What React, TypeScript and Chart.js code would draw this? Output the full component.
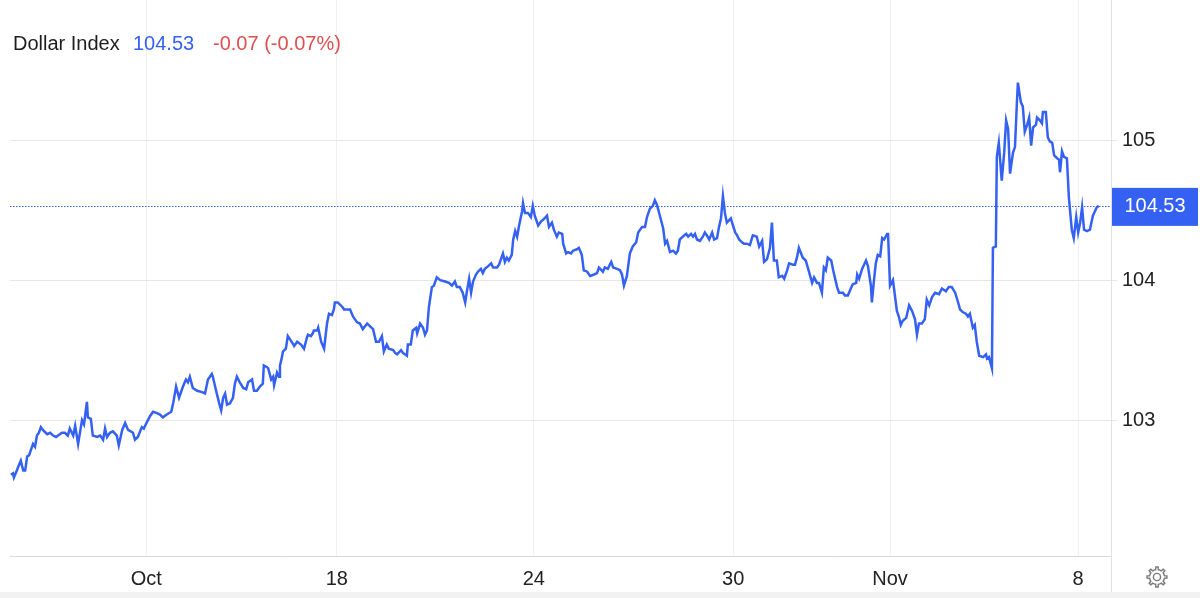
import React, { useEffect, useRef } from "react";
import Chart from "chart.js/auto";

const TITLE = "Dollar Index";
const LAST = 104.53;
const LAST_TEXT = "104.53";
const CHANGE_TEXT = "-0.07 (-0.07%)";

// x: trading days since the first sample
const TIMES = [
  0.02, 0.06, 0.08, 0.14, 0.16, 0.22, 0.27, 0.31, 0.35, 0.39, 0.47, 0.51, 0.55, 0.59, 0.63, 0.67, 0.76, 0.82, 0.88, 0.94,
  0.98, 1.06, 1.12, 1.18, 1.22, 1.29, 1.33, 1.39, 1.47, 1.51, 1.57, 1.59, 1.65, 1.69, 1.78, 1.84, 1.9, 1.94, 1.98, 2.04,
  2.1, 2.18, 2.22, 2.29, 2.35, 2.41, 2.51, 2.55, 2.61, 2.69, 2.73, 2.8, 2.86, 2.92, 3.0, 3.06, 3.12, 3.2, 3.29, 3.33,
  3.39, 3.45, 3.53, 3.59, 3.63, 3.67, 3.73, 3.82, 3.92, 3.98, 4.04, 4.12, 4.14, 4.22, 4.27, 4.31, 4.35, 4.39, 4.43, 4.49,
  4.55, 4.59, 4.63, 4.69, 4.76, 4.82, 4.86, 4.94, 4.98, 5.04, 5.1, 5.16, 5.18, 5.24, 5.27, 5.33, 5.37, 5.39, 5.45, 5.49,
  5.51, 5.55, 5.57, 5.63, 5.67, 5.73, 5.8, 5.86, 5.94, 6.0, 6.06, 6.08, 6.14, 6.18, 6.2, 6.27, 6.29, 6.35, 6.41, 6.47,
  6.51, 6.57, 6.61, 6.63, 6.69, 6.78, 6.82, 6.88, 6.94, 7.0, 7.08, 7.14, 7.2, 7.29, 7.35, 7.41, 7.47, 7.53, 7.59, 7.63,
  7.69, 7.73, 7.82, 7.86, 7.9, 7.98, 8.02, 8.1, 8.12, 8.18, 8.22, 8.29, 8.31, 8.37, 8.43, 8.47, 8.51, 8.55, 8.61, 8.65,
  8.71, 8.78, 8.88, 8.96, 9.02, 9.08, 9.12, 9.18, 9.24, 9.29, 9.33, 9.37, 9.41, 9.45, 9.51, 9.55, 9.61, 9.65, 9.69, 9.76,
  9.82, 9.86, 9.94, 9.98, 10.04, 10.06, 10.1, 10.14, 10.18, 10.24, 10.27, 10.31, 10.35, 10.39, 10.45, 10.47, 10.51, 10.57, 10.63, 10.67,
  10.71, 10.78, 10.84, 10.88, 10.96, 11.0, 11.06, 11.1, 11.16, 11.2, 11.27, 11.29, 11.35, 11.39, 11.45, 11.49, 11.57, 11.61, 11.67, 11.71,
  11.78, 11.84, 11.92, 11.98, 12.02, 12.1, 12.14, 12.2, 12.27, 12.31, 12.39, 12.45, 12.49, 12.53, 12.59, 12.65, 12.71, 12.78, 12.82, 12.9,
  12.96, 13.0, 13.06, 13.12, 13.16, 13.2, 13.24, 13.33, 13.37, 13.41, 13.47, 13.53, 13.59, 13.63, 13.67, 13.73, 13.8, 13.84, 13.9, 13.94,
  13.98, 14.02, 14.08, 14.14, 14.18, 14.22, 14.27, 14.33, 14.37, 14.43, 14.47, 14.51, 14.55, 14.59, 14.63, 14.71, 14.8, 14.84, 14.88, 14.94,
  14.98, 15.04, 15.1, 15.16, 15.24, 15.29, 15.35, 15.39, 15.45, 15.51, 15.55, 15.59, 15.65, 15.69, 15.76, 15.8, 15.86, 15.9, 15.98, 16.02,
  16.06, 16.1, 16.18, 16.24, 16.29, 16.37, 16.41, 16.47, 16.51, 16.57, 16.61, 16.65, 16.69, 16.76, 16.8, 16.88, 16.92, 17.0, 17.04, 17.1,
  17.16, 17.2, 17.27, 17.29, 17.33, 17.39, 17.43, 17.47, 17.51, 17.57, 17.59, 17.63, 17.67, 17.71, 17.76, 17.8, 17.84, 17.9, 17.92, 17.96,
  18.02, 18.06, 18.1, 18.14, 18.18, 18.22, 18.29, 18.35, 18.41, 18.47, 18.51, 18.55, 18.61, 18.67, 18.71, 18.76, 18.82, 18.88, 18.96, 19.02,
  19.1, 19.16, 19.22, 19.29, 19.35, 19.39, 19.45, 19.51, 19.55, 19.59, 19.65, 19.69, 19.73, 19.78, 19.86, 19.92, 19.94, 19.98, 20.04, 20.06,
  20.12, 20.14, 20.18, 20.24, 20.29, 20.33, 20.37, 20.41, 20.47, 20.51, 20.55, 20.57, 20.63, 20.67, 20.71, 20.76, 20.8, 20.84, 20.88, 20.94,
  20.96, 21.02, 21.06, 21.08, 21.14, 21.18, 21.22, 21.27, 21.31, 21.37, 21.41, 21.43, 21.47, 21.51, 21.57, 21.61, 21.67, 21.71, 21.76, 21.8,
  21.84, 21.88, 21.92, 21.98, 22.04, 22.1, 22.14, 22.18, 22.22,
];

const VALUES = [
  102.61, 102.62, 102.59, 102.64, 102.66, 102.71, 102.64, 102.64, 102.74, 102.75, 102.83, 102.81, 102.89, 102.91, 102.95, 102.93, 102.9, 102.91, 102.89, 102.88,
  102.89, 102.91, 102.91, 102.89, 102.94, 102.89, 102.96, 102.83, 103.0, 102.97, 103.13, 103.02, 103.01, 102.89, 102.88, 102.89, 102.86, 102.94, 102.88, 102.91,
  102.92, 102.89, 102.82, 102.93, 102.98, 102.93, 102.91, 102.86, 102.88, 102.95, 102.94, 102.99, 103.03, 103.06, 103.05, 103.04, 103.02, 103.04, 103.06, 103.12,
  103.24, 103.16, 103.24, 103.29, 103.27, 103.31, 103.23, 103.21, 103.2, 103.19, 103.29, 103.33, 103.31, 103.19, 103.12, 103.07, 103.16, 103.19, 103.11, 103.12,
  103.16, 103.26, 103.31, 103.27, 103.23, 103.22, 103.27, 103.29, 103.21, 103.21, 103.24, 103.26, 103.39, 103.38, 103.37, 103.29, 103.31, 103.25, 103.34, 103.31,
  103.39, 103.45, 103.49, 103.51, 103.6, 103.57, 103.53, 103.56, 103.54, 103.51, 103.59, 103.61, 103.6, 103.62, 103.64, 103.64, 103.66, 103.56, 103.51, 103.69,
  103.76, 103.75, 103.79, 103.84, 103.84, 103.81, 103.79, 103.79, 103.79, 103.74, 103.7, 103.69, 103.65, 103.69, 103.67, 103.65, 103.56, 103.56, 103.6, 103.49,
  103.54, 103.51, 103.5, 103.48, 103.47, 103.5, 103.48, 103.46, 103.54, 103.54, 103.64, 103.66, 103.62, 103.69, 103.66, 103.61, 103.64, 103.81, 103.95, 103.96,
  104.02, 104.0, 103.99, 103.98, 103.96, 103.99, 103.95, 103.95, 103.91, 103.84, 103.93, 104.01, 103.91, 103.99, 104.04, 104.06, 104.08, 104.05, 104.08, 104.1,
  104.12, 104.09, 104.09, 104.11, 104.17, 104.19, 104.13, 104.16, 104.14, 104.18, 104.29, 104.35, 104.31, 104.39, 104.49, 104.55, 104.48, 104.48, 104.45, 104.53,
  104.46, 104.39, 104.42, 104.43, 104.46, 104.38, 104.41, 104.36, 104.31, 104.34, 104.33, 104.26, 104.19, 104.2, 104.19, 104.21, 104.22, 104.23, 104.18, 104.07,
  104.06, 104.03, 104.04, 104.05, 104.09, 104.06, 104.09, 104.08, 104.13, 104.09, 104.08, 104.07, 104.04, 103.96, 104.03, 104.19, 104.24, 104.27, 104.34, 104.38,
  104.38, 104.45, 104.51, 104.53, 104.57, 104.54, 104.49, 104.37, 104.26, 104.28, 104.2, 104.21, 104.19, 104.21, 104.29, 104.31, 104.33, 104.31, 104.33, 104.31,
  104.33, 104.29, 104.28, 104.31, 104.34, 104.32, 104.29, 104.34, 104.29, 104.3, 104.38, 104.44, 104.6, 104.48, 104.41, 104.44, 104.34, 104.32, 104.29, 104.27,
  104.26, 104.26, 104.25, 104.32, 104.31, 104.24, 104.28, 104.13, 104.15, 104.23, 104.41, 104.14, 104.14, 104.02, 104.03, 104.01, 104.07, 104.12, 104.11, 104.11,
  104.16, 104.23, 104.16, 104.14, 104.08, 103.98, 104.02, 103.98, 103.98, 103.91, 104.09, 104.07, 104.16, 104.14, 104.07, 103.95, 103.91, 103.91, 103.89, 103.89,
  103.94, 103.97, 103.98, 104.04, 104.01, 104.08, 104.11, 104.14, 104.1, 103.96, 103.84, 103.99, 104.12, 104.18, 104.17, 104.3, 104.29, 104.33, 104.33, 103.96,
  104.0, 103.89, 103.78, 103.74, 103.68, 103.71, 103.73, 103.82, 103.78, 103.72, 103.61, 103.69, 103.69, 103.72, 103.86, 103.82, 103.88, 103.91, 103.9, 103.94,
  103.92, 103.95, 103.95, 103.91, 103.84, 103.79, 103.77, 103.76, 103.74, 103.76, 103.66, 103.68, 103.56, 103.46, 103.45, 103.47, 103.44, 103.45, 103.37, 104.23,
  104.24, 104.88, 104.98, 104.71, 104.91, 105.14, 105.08, 104.76, 104.91, 104.95, 105.27, 105.41, 105.27, 105.24, 105.06, 105.11, 105.16, 104.96, 105.09, 105.11,
  105.16, 105.14, 105.12, 105.2, 105.2, 105.02, 104.99, 104.98, 104.89, 104.87, 104.86, 104.77, 104.92, 104.88, 104.87, 104.59, 104.36, 104.3, 104.45, 104.34,
  104.41, 104.52, 104.36, 104.35, 104.36, 104.46, 104.49, 104.52, 104.53,
];

const X_TICK_POS = [2.78, 6.67, 10.69, 14.76, 17.96, 21.8];
const X_TICK_LABELS = ["Oct", "18", "24", "30", "Nov", "8"];
const Y_TICKS = [103, 104, 105];

const FONT = "'Liberation Sans', Arial, Helvetica, sans-serif";
const BLUE = "#3461f2";

export default function App() {
  const ref = useRef<HTMLCanvasElement | null>(null);

  useEffect(() => {
    if (!ref.current) return;
    const overlay = {
      id: "overlay",
      beforeDatasetsDraw(chart: any) {
        const { ctx, chartArea } = chart;
        const y = chart.scales.y.getPixelForValue(LAST);
        ctx.save();
        ctx.strokeStyle = BLUE;
        ctx.lineWidth = 1;
        ctx.setLineDash([1.5, 1.5]);
        ctx.beginPath();
        ctx.moveTo(chartArea.left, Math.round(y) + 0.5);
        ctx.lineTo(chartArea.right, Math.round(y) + 0.5);
        ctx.stroke();
        ctx.restore();
      },
      afterDraw(chart: any) {
        const { ctx, chartArea } = chart;
        const y = chart.scales.y.getPixelForValue(LAST);
        ctx.save();
        // extended right border
        ctx.strokeStyle = "#e2e2e2";
        ctx.lineWidth = 1;
        ctx.beginPath();
        ctx.moveTo(chartArea.right + 0.5, 0);
        ctx.lineTo(chartArea.right + 0.5, 592);
        ctx.stroke();
        // last value box
        ctx.fillStyle = BLUE;
        ctx.fillRect(chartArea.right + 1, y - 18, 86, 38);
        ctx.fillStyle = "#ffffff";
        ctx.font = `20px ${FONT}`;
        ctx.textAlign = "center";
        ctx.textBaseline = "middle";
        ctx.fillText(LAST_TEXT, chartArea.right + 44, y + 1);
        // gear icon
        const cx = 1157, cy = 577;
        const teeth = 8, ro = 10, ri = 7.5;
        ctx.strokeStyle = "#7a7a7a";
        ctx.lineWidth = 1.4;
        ctx.beginPath();
        for (let i = 0; i < teeth; i++) {
          const a0 = (i / teeth) * Math.PI * 2;
          const w = (Math.PI * 2) / teeth;
          const pts = [
            [ri, a0 - w * 0.5],
            [ri, a0 - w * 0.22],
            [ro, a0 - w * 0.15],
            [ro, a0 + w * 0.15],
            [ri, a0 + w * 0.22],
          ];
          pts.forEach(([r, a], k) => {
            const px = cx + r * Math.cos(a), py = cy + r * Math.sin(a);
            if (i === 0 && k === 0) ctx.moveTo(px, py);
            else ctx.lineTo(px, py);
          });
        }
        ctx.closePath();
        ctx.stroke();
        ctx.beginPath();
        ctx.arc(cx, cy, 3.6, 0, Math.PI * 2);
        ctx.stroke();
        ctx.restore();
      },
    };

    const chart = new Chart(ref.current, {
      type: "line",
      data: {
        datasets: [
          {
            data: TIMES.map((t, i) => ({ x: t, y: VALUES[i] })),
            borderColor: BLUE,
            borderWidth: 2.5,
            pointRadius: 0,
            tension: 0,
            fill: false,
          },
        ],
      },
      options: {
        animation: false,
        responsive: false,
        devicePixelRatio: 1,
        layout: { padding: { left: 10, top: 0, right: 0, bottom: 0 }, autoPadding: false },
        plugins: { legend: { display: false }, tooltip: { enabled: false } },
        scales: {
          x: {
            type: "linear",
            min: 0,
            max: 22.47,
            position: "bottom",
            grid: { color: "#eef0f3", drawTicks: false, lineWidth: 1 },
            border: { color: "#d8d8d8" },
            ticks: {
              padding: 11,
              autoSkip: false,
              maxRotation: 0,
              color: "#222222",
              font: { size: 20, family: FONT },
              callback: (_v: any, i: number) => X_TICK_LABELS[i],
            },
            afterBuildTicks: (s: any) => {
              s.ticks = X_TICK_POS.map((v) => ({ value: v }));
            },
            afterFit: (s: any) => {
              s.height = 42;
              s.paddingLeft = 0;
              s.paddingRight = 0;
            },
          },
          y: {
            type: "linear",
            position: "right",
            min: 102.03,
            max: 106,
            grid: { color: "#e6e6e6", tickLength: 6, lineWidth: 1 },
            border: { display: false },
            ticks: {
              padding: 5,
              color: "#222222",
              font: { size: 20, family: FONT },
              callback: (v: any) => String(v),
            },
            afterBuildTicks: (s: any) => {
              s.ticks = Y_TICKS.map((v) => ({ value: v }));
            },
            afterFit: (s: any) => {
              s.width = 89;
              s.paddingTop = 0;
              s.paddingBottom = 0;
            },
          },
        },
      },
      plugins: [overlay],
    } as any);
    return () => chart.destroy();
  }, []);

  const textStyle: React.CSSProperties = {
    position: "absolute",
    top: 31,
    fontFamily: FONT,
    fontSize: 20,
    lineHeight: "24px",
    whiteSpace: "nowrap",
  };

  return (
    <div style={{ position: "fixed", left: 0, top: 0, width: 1200, height: 598, background: "#fff", overflow: "hidden" }}>
      <canvas ref={ref} width={1200} height={598} style={{ position: "absolute", left: 0, top: 0, width: 1200, height: 598 }} />
      <div style={{ position: "absolute", left: 0, top: 592, width: 1200, height: 6, background: "#f2f2f2" }} />
      <span style={{ ...textStyle, left: 13, color: "#1e1e1e" }}>{TITLE}</span>
      <span style={{ ...textStyle, left: 133, color: BLUE }}>{LAST_TEXT}</span>
      <span style={{ ...textStyle, left: 213, color: "#e04f4f" }}>{CHANGE_TEXT}</span>
    </div>
  );
}
